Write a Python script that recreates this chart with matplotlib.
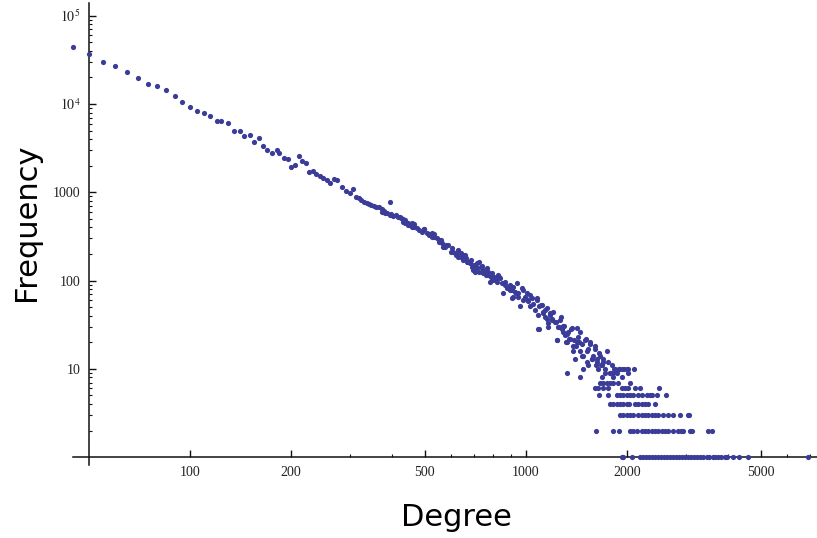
import numpy as np
import matplotlib.pyplot as plt
from matplotlib.ticker import NullFormatter

plt.rcParams['mathtext.fontset'] = 'stix'

# low degrees, large counts
deg_head = [45, 50, 55, 60, 65, 70, 75, 80, 85, 90, 95, 100, 105, 110, 115, 120,
            124, 130, 135, 141, 145, 151, 155, 160, 165, 170, 176, 181, 184, 190,
            196, 200, 206, 211, 215, 221, 226, 232, 238, 244, 249, 255, 262, 268,
            274, 283, 291, 299, 305]
freq_head = [43860, 36560, 29900, 26700, 22850, 19540, 16830, 16100, 14400, 12300,
             10620, 9180, 8400, 7850, 7310, 6470, 6400, 6040, 4945, 4985, 4375, 4456,
             3715, 4085, 3373, 3013, 2765, 3013, 2765, 2465, 2366, 1950, 2038, 2578,
             2244, 2130, 1684, 1742, 1611, 1530, 1464, 1378, 1264, 1404, 1390, 1140,
             1042, 989, 1081]

# middle band
deg_mid = [313, 318, 324, 330, 336, 341, 347, 354, 359, 365, 372, 379, 385, 394, 396,
           403, 410, 417, 425, 431, 436, 445, 452, 459, 465, 473, 481, 489, 498, 506,
           514, 524, 533, 542, 551,
           372, 380, 394, 422, 431, 436, 446, 457, 464, 497, 515, 524, 533, 551, 558,
           561, 574, 587, 601, 608, 622, 629, 639, 651, 663, 673, 685, 697, 705, 713,
           726, 733, 743, 755, 764, 773, 781, 790, 802, 814, 827, 837, 847, 856, 866,
           876, 886, 896, 906, 906, 917, 927, 938, 949,
           567, 578, 598, 619, 629, 639, 651, 658, 669, 681, 689, 697, 705, 716, 726,
           738, 746, 760, 773, 785, 796, 809, 822, 834, 866, 879, 896, 917, 934, 949]
freq_mid = [892, 855, 818, 783, 763, 738, 718, 700, 676, 687, 642, 619, 588, 783, 568,
            539, 553, 529, 508, 465, 486, 445, 426, 408, 438, 391, 374, 358, 381, 343,
            328, 314, 337, 301, 288,
            603, 578, 553, 521, 494, 445, 426, 453, 408, 381, 337, 349, 314, 276, 288,
            264, 242, 253, 232, 212, 204, 222, 187, 195, 179, 164, 171, 150, 126, 157,
            164, 144, 132, 126, 138, 116, 97, 121, 111, 102, 116, 106, 93, 72, 97,
            85, 82, 89, 78, 63, 66, 75, 93, 72,
            242, 253, 213, 195, 187, 207, 171, 195, 164, 157, 144, 132, 150, 138, 126,
            146, 121, 116, 126, 111, 102, 106, 97, 111, 89, 82, 78, 85, 72, 66]

# scattered region above the integer rows
deg_scat = [982, 993, 1016, 1028, 1051, 1063, 1076, 1088, 1096, 1114, 1127, 1139, 1152,
            1165, 1178, 1193, 1206, 1219, 1234, 1248, 1262, 1277, 1291, 1306, 1321,
            1336, 1352, 1368, 1383, 1399, 1415, 1431, 1448, 1465, 1482, 1499, 1516,
            1533, 1550, 1569, 1585, 1604, 1622, 1641, 1661, 1680, 1699, 1718, 1738,
            1758, 1321, 1448, 1482,
            960, 971, 982, 1005, 1016, 1028, 1040, 1076, 1088, 1096, 1106, 1121, 1139,
            1152, 1165, 1178, 1193, 1228, 1239, 1256, 1268, 1286, 1297, 1315, 1327,
            1345, 1358, 1377, 1390, 1409, 1422, 1442, 1448, 1465, 1510, 1522, 1533,
            1550, 1570, 1604, 1615, 1630, 1652, 1668, 1680, 1699, 1718, 1778, 1799,
            1820, 1841, 1862, 1896, 1927, 1958, 1995, 2015]
freq_scat = [78, 66, 60, 69, 55, 46, 63, 28, 51, 53, 43, 46, 37,
             33, 41, 36, 44, 34, 21, 30, 36, 28, 31, 24, 20,
             26, 22, 29, 18, 13, 20, 23, 16, 19, 14, 21, 16,
             11, 19, 13, 14, 17, 12, 10, 14, 11, 12, 9, 16,
             12, 9, 8, 10,
             51, 82, 60, 72, 58, 51, 63, 60, 41, 28, 53, 44, 39,
             49, 30, 43, 37, 34, 21, 30, 39, 26, 31, 20, 25,
             22, 28, 16, 21, 18, 29, 20, 26, 14, 22, 12, 17,
             20, 13, 18, 11, 13, 15, 11, 8, 13, 10, 9, 11,
             8, 10, 9, 10, 8, 10, 10, 9]

# tail: degrees seen at each small count
tail_rows = {
    10: [1832, 1890, 1927, 2016, 2100],
    9: [1778, 1819],
    7: [1661, 1699, 1739, 1778, 1819, 1882, 2039],
    6: [1605, 1641, 1699, 1758, 1927, 1971, 2016, 2110, 2184, 2493],
    5: [1653, 1758, 1861, 1905, 1948, 1993, 2039, 2087, 2161, 2213, 2284, 2339,
        2376, 2455, 2607],
    4: [1778, 1819, 1861, 1905, 1948, 1993, 2029, 2110, 2161, 2213, 2261, 2313, 2421],
    3: [1905, 1948, 1993, 2039, 2087, 2161, 2213, 2261, 2313, 2366, 2421, 2477,
        2563, 2652, 2744, 2873, 3041, 3056],
    2: [1617, 1819, 1896, 2039, 2087, 2136, 2213, 2261, 2313, 2366, 2421, 2477,
        2534, 2593, 2652, 2744, 2840, 2890, 2939, 3077, 3113, 3484, 3581],
    1: [1927, 1948, 2064, 2184, 2228, 2279, 2322, 2375, 2420, 2474, 2521, 2580,
        2628, 2688, 2739, 2801, 2853, 2920, 2975, 3044, 3100, 3170, 3230, 3305,
        3365, 3445, 3505, 3590, 3655, 3740, 3810, 3900, 3970, 4130, 4290, 4578, 6908],
}

xticks = [100, 200, 500, 1000, 2000, 5000]
xticklabels = ['100', '200', '500', '1000', '2000', '5000']
xminor = [300, 400, 600, 700, 800, 900, 3000, 4000, 6000, 7000]
yticks = [10, 100, 1000, 1e4, 1e5]
yticklabels = ['10', '100', '1000', r'$10^4$', r'$10^5$']

deg = deg_head + deg_mid + deg_scat
freq = freq_head + freq_mid + freq_scat
for k, ds in tail_rows.items():
    deg += ds
    freq += [k] * len(ds)

fig = plt.figure(figsize=(8.17, 5.38), dpi=100)
ax = fig.add_axes([0.089, 0.1357, 0.911, 0.8587])
ax.set_xscale('log')
ax.set_yscale('log')
ax.set_xlim(44.8, 7345)
ax.set_ylim(0.816, 139300)

ax.scatter(deg, freq, s=14, color='#3b3b98', linewidths=0, zorder=3, clip_on=False)

# Mathematica style axes crossing at (50, 1)
for s in ['top', 'right']:
    ax.spines[s].set_visible(False)
ax.spines['left'].set_position(('data', 50))
ax.spines['bottom'].set_position(('data', 1))
for s in ['left', 'bottom']:
    ax.spines[s].set_linewidth(1.1)
    ax.spines[s].set_color('#111111')

ax.set_xticks(xticks)
ax.set_xticklabels(xticklabels)
ax.set_xticks(xminor, minor=True)
ax.xaxis.set_minor_formatter(NullFormatter())
ax.set_yticks(yticks)
ax.set_yticklabels(yticklabels)
yminor = [m * 10.0 ** k for k in range(0, 5) for m in range(2, 10)]
ax.set_yticks(yminor, minor=True)
ax.yaxis.set_minor_formatter(NullFormatter())

ax.tick_params(which='major', direction='in', length=5, width=1, pad=6,
               labelsize=10, labelcolor='#222222', color='#111111')
ax.tick_params(which='minor', direction='in', length=2.5, width=0.8, color='#111111')
for lab in ax.get_xticklabels() + ax.get_yticklabels():
    lab.set_fontfamily('Liberation Serif')

fig.text(456 / 817, 1 - 518 / 538, 'Degree', ha='center', va='center', fontsize=22)
fig.text(27 / 817, 1 - 222 / 538, 'Frequency', ha='center', va='center',
         rotation=90, fontsize=22)

fig.savefig('out.png', dpi=100)
